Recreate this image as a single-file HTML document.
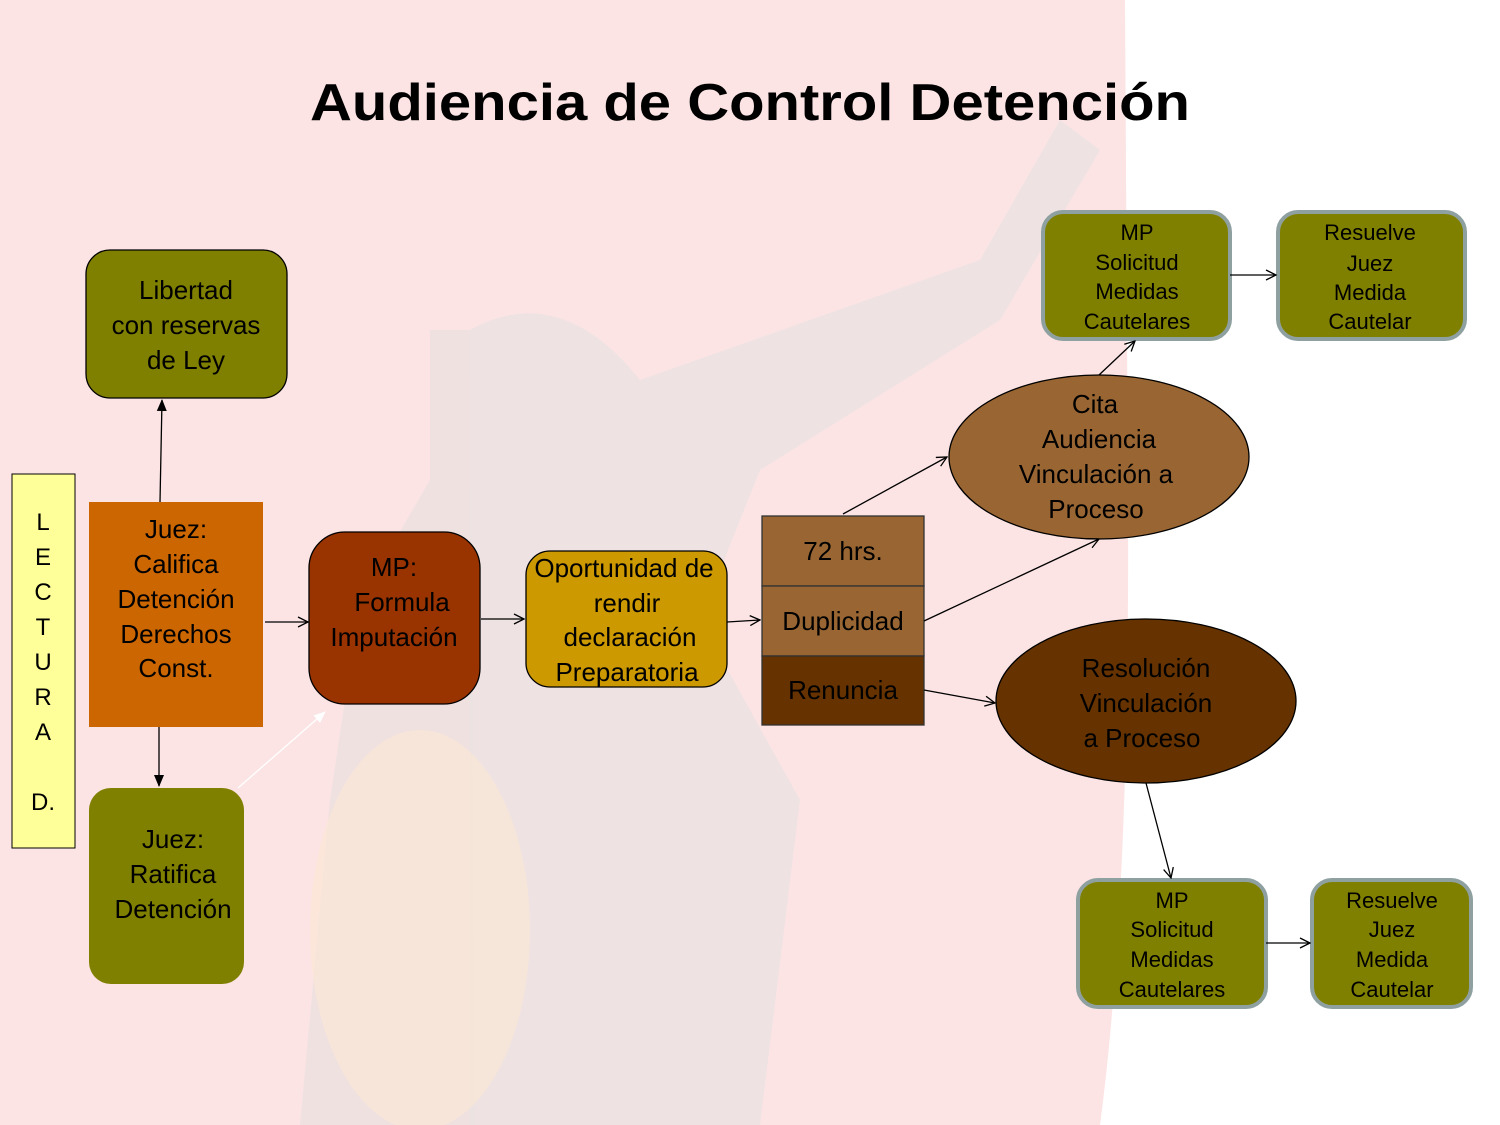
<!DOCTYPE html>
<html><head><meta charset="utf-8"><style>
html,body{margin:0;padding:0;width:1500px;height:1125px;overflow:hidden;background:#fff}
svg text{font-family:"Liberation Sans",Arial,sans-serif;fill:#000}
</style></head><body>
<svg width="1500" height="1125" viewBox="0 0 1500 1125" xmlns="http://www.w3.org/2000/svg">
<defs>
<marker id="a" viewBox="0 0 12 12" refX="11" refY="6" markerWidth="12" markerHeight="12" markerUnits="userSpaceOnUse" orient="auto"><path d="M1,1 L11,6 L1,11" fill="none" stroke="#000" stroke-width="1.3"/></marker>
<marker id="f" viewBox="0 0 12 12" refX="11" refY="6" markerWidth="12" markerHeight="12" markerUnits="userSpaceOnUse" orient="auto"><path d="M0,1 L12,6 L0,11 Z" fill="#000"/></marker>
<marker id="w" viewBox="0 0 12 12" refX="11" refY="6" markerWidth="12" markerHeight="12" markerUnits="userSpaceOnUse" orient="auto"><path d="M0,1 L12,6 L0,11 Z" fill="#fff"/></marker>
</defs>
<rect width="1500" height="1125" fill="#fff"/>
<path d="M0,0 H1125 L1128,500 Q1130,900 1100,1125 H0 Z" fill="#fce4e4"/>
<path d="M430,330 L470,330 L475,1125 L300,1125 L330,800 L360,600 L430,480 Z" fill="#ebe0e0" opacity="0.7"/>
<path d="M470,330 Q560,280 640,380 L980,260 L1060,120 L1100,150 L1000,320 L760,470 L700,620 L800,800 L760,1125 L470,1125 Z" fill="#eae2e2" opacity="0.75"/>
<ellipse cx="420" cy="930" rx="110" ry="200" fill="#fbe8d4" opacity="0.6"/>
<text x="310" y="120" font-size="52" font-weight="bold" textLength="880" lengthAdjust="spacingAndGlyphs">Audiencia de Control Detención</text>

<rect x="12" y="474" width="63" height="374" fill="#ffff99" stroke="#000" stroke-width="1"/>
<g font-size="24" text-anchor="middle">
<text x="43" y="530">L</text><text x="43" y="565">E</text><text x="43" y="600">C</text><text x="43" y="635">T</text><text x="43" y="670">U</text><text x="43" y="705">R</text><text x="43" y="740">A</text><text x="43" y="810">D.</text>
</g>

<rect x="86" y="250" width="201" height="148" rx="24" fill="#808000" stroke="#000" stroke-width="1.3"/>
<g font-size="26" text-anchor="middle"><text x="186" y="299">Libertad</text><text x="186" y="334">con reservas</text><text x="186" y="369">de Ley</text></g>

<rect x="89" y="502" width="174" height="225" fill="#cc6600"/>
<g font-size="26" text-anchor="middle"><text x="176" y="538">Juez:</text><text x="176" y="573">Califica</text><text x="176" y="608">Detención</text><text x="176" y="643">Derechos</text><text x="176" y="677">Const.</text></g>

<rect x="89" y="788" width="155" height="196" rx="22" fill="#808000"/>
<g font-size="26" text-anchor="middle"><text x="173" y="848">Juez:</text><text x="173" y="883">Ratifica</text><text x="173" y="918">Detención</text></g>

<rect x="309" y="532" width="171" height="172" rx="36" fill="#993300" stroke="#000" stroke-width="1.3"/>
<g font-size="26" text-anchor="middle"><text x="394" y="576">MP:</text><text x="402" y="611">Formula</text><text x="394" y="646">Imputación</text></g>

<rect x="526" y="551" width="201" height="136" rx="24" fill="#cc9900" stroke="#000" stroke-width="1.3"/>
<g font-size="26" text-anchor="middle"><text x="624" y="577">Oportunidad de</text><text x="627" y="612">rendir</text><text x="630" y="646">declaración</text><text x="627" y="681">Preparatoria</text></g>

<rect x="762" y="516" width="162" height="70" fill="#996633" stroke="#333" stroke-width="1.3"/>
<rect x="762" y="586" width="162" height="70" fill="#996633" stroke="#333" stroke-width="1.3"/>
<rect x="762" y="656" width="162" height="69" fill="#663300" stroke="#333" stroke-width="1.3"/>
<g font-size="26" text-anchor="middle"><text x="843" y="560">72 hrs.</text><text x="843" y="630">Duplicidad</text><text x="843" y="699">Renuncia</text></g>

<ellipse cx="1099" cy="457" rx="150" ry="82" fill="#996633" stroke="#000" stroke-width="1.3"/>
<g font-size="26" text-anchor="middle"><text x="1095" y="413">Cita</text><text x="1099" y="448">Audiencia</text><text x="1096" y="483">Vinculación a</text><text x="1096" y="518">Proceso</text></g>
<ellipse cx="1146" cy="701" rx="150" ry="82" fill="#663300" stroke="#000" stroke-width="1.3"/>
<g font-size="26" text-anchor="middle"><text x="1146" y="677">Resolución</text><text x="1146" y="712">Vinculación</text><text x="1142" y="747">a Proceso</text></g>

<g fill="#808000" stroke="#8fa0a0" stroke-width="4">
<rect x="1043" y="212" width="187" height="127" rx="20"/>
<rect x="1278" y="212" width="187" height="127" rx="20"/>
<rect x="1078" y="880" width="188" height="127" rx="20"/>
<rect x="1312" y="880" width="159" height="127" rx="20"/>
</g>
<g font-size="22" text-anchor="middle">
<text x="1137" y="240">MP</text><text x="1137" y="270">Solicitud</text><text x="1137" y="299">Medidas</text><text x="1137" y="329">Cautelares</text>
<text x="1370" y="240">Resuelve</text><text x="1370" y="271">Juez</text><text x="1370" y="300">Medida</text><text x="1370" y="329">Cautelar</text>
<text x="1172" y="908">MP</text><text x="1172" y="937">Solicitud</text><text x="1172" y="967">Medidas</text><text x="1172" y="997">Cautelares</text>
<text x="1392" y="908">Resuelve</text><text x="1392" y="937">Juez</text><text x="1392" y="967">Medida</text><text x="1392" y="997">Cautelar</text>
</g>

<g stroke="#000" stroke-width="1.3" fill="none">
<line x1="160" y1="502" x2="162" y2="400" marker-end="url(#f)"/>
<line x1="159" y1="727" x2="159" y2="786" marker-end="url(#f)"/>
<line x1="265" y1="622" x2="308" y2="622" marker-end="url(#a)"/>
<line x1="481" y1="619" x2="524" y2="619" marker-end="url(#a)"/>
<line x1="727" y1="622" x2="760" y2="620" marker-end="url(#a)"/>
<line x1="843" y1="514" x2="947" y2="457" marker-end="url(#a)"/>
<line x1="924" y1="621" x2="1099" y2="539" marker-end="url(#a)"/>
<line x1="924" y1="690" x2="995" y2="703" marker-end="url(#a)"/>
<line x1="1099" y1="375" x2="1135" y2="341" marker-end="url(#a)"/>
<line x1="1230" y1="275" x2="1276" y2="275" marker-end="url(#a)"/>
<line x1="1146" y1="783" x2="1171" y2="878" marker-end="url(#a)"/>
<line x1="1266" y1="943" x2="1310" y2="943" marker-end="url(#a)"/>
</g>
<line x1="238" y1="788" x2="325" y2="712" stroke="#fff" stroke-width="1.3" marker-end="url(#w)"/>
</svg>
</body></html>
